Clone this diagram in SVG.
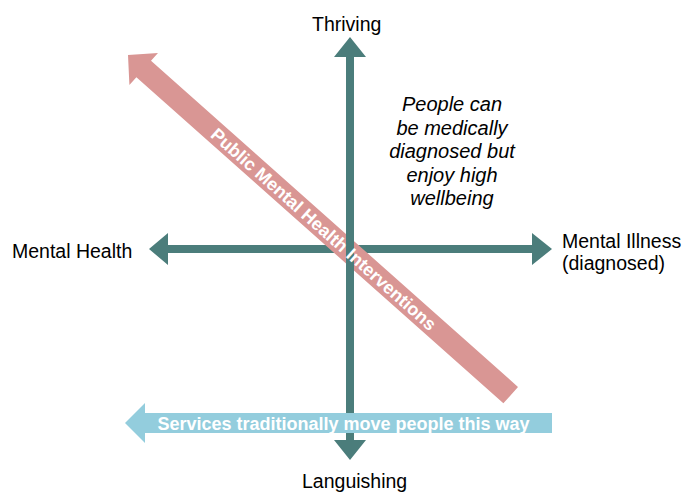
<svg xmlns="http://www.w3.org/2000/svg" width="687" height="492" viewBox="0 0 687 492">
<style>
.axis{fill:#4b7d7b}
.lbl{font-family:"Liberation Sans",Arial,sans-serif;font-size:19.5px;fill:#000}
.note{font-family:"Liberation Sans",Arial,sans-serif;font-size:20px;font-style:italic;fill:#000;text-anchor:middle}
.band{font-family:"Liberation Sans",Arial,sans-serif;font-size:18px;font-weight:bold;fill:#fff;text-anchor:middle}
</style>
<rect width="687" height="492" fill="#fff"/>
<g id="connectors">
  <g id="axis-horizontal">
    <polygon class="axis" points="149,249 168,233 168,245 532,245 532,233 552,249 532,265 532,253 168,253 168,265"/>
  </g>
  <g id="pink-arrow" transform="translate(128,55) rotate(41.63)">
    <polygon points="0,0 21,-21.5 21,-11 512,-11 512,11 21,11 21,21.5" fill="#d99694"/>
  </g>
  <g id="axis-vertical">
    <polygon class="axis" points="350,37 366,57 354,57 354,440 366,440 350,460 334,440 346,440 346,57 334,57"/>
  </g>
  <g id="pink-label" transform="translate(128,55) rotate(41.63)">
    <text class="band" x="262" y="6.5">Public Mental Health Interventions</text>
  </g>
  <g id="blue-arrow">
    <polygon points="125,423 145,403 145,413 552,413 552,433 145,433 145,443" fill="#93cddd"/>
    <text class="band" x="343.5" y="429.5">Services traditionally move people this way</text>
  </g>
</g>
<g id="node-thriving"><text class="lbl" x="312" y="31">Thriving</text></g>
<g id="node-languishing"><text class="lbl" x="302" y="488">Languishing</text></g>
<g id="node-mental-health"><text class="lbl" x="12" y="258">Mental Health</text></g>
<g id="node-mental-illness">
  <text class="lbl" x="562" y="248">Mental Illness</text>
  <text class="lbl" x="562" y="270">(diagnosed)</text>
</g>
<g id="node-note">
  <text class="note" x="452" y="111">People can</text>
  <text class="note" x="452" y="134.5">be medically</text>
  <text class="note" x="452" y="158">diagnosed but</text>
  <text class="note" x="452" y="181.5">enjoy high</text>
  <text class="note" x="452" y="205">wellbeing</text>
</g>
</svg>
